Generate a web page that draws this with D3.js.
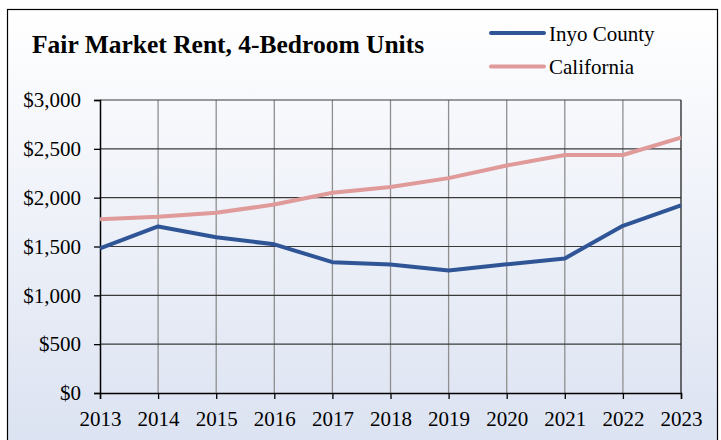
<!DOCTYPE html>
<html>
<head>
<meta charset="utf-8">
<script src="https://cdn.jsdelivr.net/npm/d3@7"></script>
<style>
  html, body { margin: 0; padding: 0; background: #ffffff; }
  svg { display: block; }
  text { font-family: "Liberation Serif", "Times New Roman", serif; fill: #000; }
</style>
</head>
<body>
<svg id="chart" width="721" height="440"></svg>
<script>
// Fair Market Rent for 4-bedroom units, Inyo County vs. California
const years = [2013, 2014, 2015, 2016, 2017, 2018, 2019, 2020, 2021, 2022, 2023];
const inyoCounty = [1480, 1705, 1595, 1522, 1340, 1315, 1255, 1318, 1378, 1712, 1920];
const california = [1780, 1805, 1845, 1930, 2050, 2110, 2200, 2330, 2437, 2437, 2615];
const yTicks = [0, 500, 1000, 1500, 2000, 2500, 3000];
const seriesNames = ["Inyo County", "California"];
const seriesColors = ["#2f5597", "#df9a99"];

const serif = "'Liberation Serif', 'Times New Roman', serif";
const svg = d3.select("#chart");
const plot = { left: 100, right: 681, top: 100, bottom: 393 };

// background panel with soft vertical gradient
const defs = svg.append("defs");
const grad = defs.append("linearGradient")
  .attr("id", "bg").attr("x1", 0).attr("y1", 0).attr("x2", 0).attr("y2", 1);
grad.append("stop").attr("offset", "0%").attr("stop-color", "#ffffff");
grad.append("stop").attr("offset", "100%").attr("stop-color", "#dbe2f1");

svg.append("rect")
  .attr("x", 7.5).attr("y", 9.5)
  .attr("width", 710).attr("height", 440)
  .attr("fill", "url(#bg)")
  .attr("stroke", "#000").attr("stroke-width", 1.2);

const x = d3.scaleLinear().domain([2013, 2023]).range([plot.left, plot.right]);
const y = d3.scaleLinear().domain([0, 3000]).range([plot.bottom, plot.top]);

// vertical grid lines
svg.append("g")
  .selectAll("line").data(years.slice(1, -1)).join("line")
  .attr("x1", d => x(d)).attr("x2", d => x(d))
  .attr("y1", plot.top).attr("y2", plot.bottom)
  .attr("stroke", "#8f8f8f").attr("stroke-width", 1.3);

// horizontal grid lines
svg.append("g")
  .selectAll("line").data(yTicks.slice(1)).join("line")
  .attr("x1", plot.left).attr("x2", plot.right)
  .attr("y1", d => y(d)).attr("y2", d => y(d))
  .attr("stroke", "#3a3a3a").attr("stroke-width", 1.2);

// right frame edge
svg.append("line")
  .attr("x1", plot.right).attr("x2", plot.right)
  .attr("y1", plot.top).attr("y2", plot.bottom)
  .attr("stroke", "#222").attr("stroke-width", 1.3);

// y axis
const yAxis = svg.append("g")
  .attr("transform", `translate(${plot.left},0)`)
  .call(d3.axisLeft(y).tickValues(yTicks).tickSize(6).tickPadding(13)
    .tickFormat(d => "$" + d3.format(",")(d)));
yAxis.attr("font-family", null).attr("font-size", null);
yAxis.select(".domain").attr("stroke", "#000").attr("stroke-width", 1.5);
yAxis.selectAll(".tick line").attr("stroke", "#000").attr("stroke-width", 1.3);
yAxis.selectAll(".tick text")
  .style("font-family", serif)
  .style("font-size", "21px").attr("fill", "#000");

// x axis
const xAxis = svg.append("g")
  .attr("transform", `translate(0,${plot.bottom})`)
  .call(d3.axisBottom(x).tickValues(years).tickSize(6).tickPadding(12)
    .tickFormat(d3.format("d")));
xAxis.attr("font-family", null).attr("font-size", null);
xAxis.select(".domain").attr("stroke", "#000").attr("stroke-width", 1.5);
xAxis.selectAll(".tick line").attr("stroke", "#000").attr("stroke-width", 1.3);
xAxis.selectAll(".tick text")
  .style("font-family", serif)
  .style("font-size", "21px").attr("fill", "#000");

// series lines
const line = d3.line().x((d, i) => x(years[i])).y(d => y(d));
[inyoCounty, california].forEach((vals, k) => {
  svg.append("path")
    .datum(vals)
    .attr("d", line)
    .attr("fill", "none")
    .attr("stroke", seriesColors[k])
    .attr("stroke-width", 4)
    .attr("stroke-linejoin", "round");
});

// title
svg.append("text")
  .attr("x", 32).attr("y", 53)
  .style("font-family", serif)
  .style("font-size", "25.5px").style("font-weight", "bold")
  .text("Fair Market Rent, 4-Bedroom Units");

// legend
const legend = svg.append("g");
seriesNames.forEach((name, k) => {
  const ly = 33 + k * 33.5;
  legend.append("line")
    .attr("x1", 491).attr("x2", 544).attr("y1", ly).attr("y2", ly)
    .attr("stroke", seriesColors[k]).attr("stroke-width", 4)
    .attr("stroke-linecap", "round");
  legend.append("text")
    .attr("x", 549).attr("y", ly + 7.5)
    .style("font-family", serif)
    .style("font-size", "21px")
    .text(name);
});
</script>
</body>
</html>
